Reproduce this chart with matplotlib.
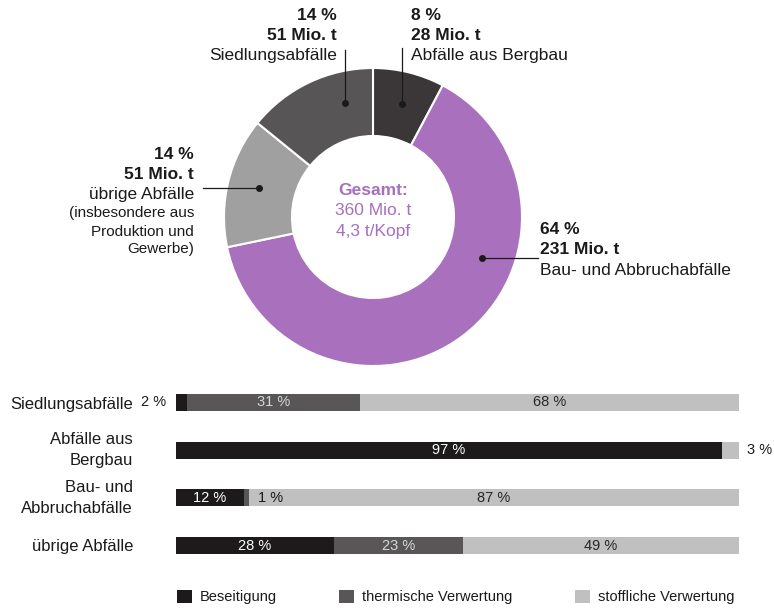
import matplotlib
matplotlib.use('Agg')
import matplotlib.pyplot as plt
import numpy as np

W, H = 774, 610
plt.rcParams['font.family'] = ['Liberation Sans', 'DejaVu Sans']

# ---------------- data ----------------
waste_types = ['Abfälle aus Bergbau', 'Bau- und Abbruchabfälle', 'übrige Abfälle', 'Siedlungsabfälle']
amounts = [28, 231, 51, 51]          # Mio. t
shares = [8, 64, 14, 14]             # %
pie_colors = ['#3b3738', '#a970bd', '#a0a0a0', '#585556']
extra_note = ['(insbesondere aus', 'Produktion und', 'Gewerbe)']
total_lines = ['Gesamt:', '360 Mio. t', '4,3 t/Kopf']

bar_categories = ['Siedlungsabfälle', 'Abfälle aus\nBergbau', 'Bau- und\nAbbruchabfälle', 'übrige Abfälle']
beseitigung = [2, 97, 12, 28]
thermisch = [31, 0, 1, 23]
stofflich = [68, 3, 87, 49]
series_names = ['Beseitigung', 'thermische Verwertung', 'stoffliche Verwertung']
bar_colors = ['#1d1a1b', '#595657', '#c0c0c0']
text_on_bar = ['white', '#d6d6d6', '#262626']

PURPLE = '#a66fbf'
DARK = '#1a1a1a'

fig = plt.figure(figsize=(W / 100, H / 100), dpi=100)

# ---------------- donut ----------------
cx, cy, R = 373, 217, 149
axp = fig.add_axes([(cx - R) / W, (H - cy - R) / H, 2 * R / W, 2 * R / H])
axp.pie(amounts, colors=pie_colors, startangle=90, counterclock=False, radius=1,
        wedgeprops=dict(width=68 / 149, edgecolor='white', linewidth=1.5))
axp.set_xlim(-1, 1)
axp.set_ylim(-1, 1)
axp.axis('off')


def P(px, py):
    return ((px - cx) / R, (cy - py) / R)


# label layout (pixel positions): x, ha, line y's, leader line
layout = {
    'Abfälle aus Bergbau': dict(x=411, ha='left', ys=[13.5, 33.5, 54], lead=[(402, 48), (402, 104)]),
    'Bau- und Abbruchabfälle': dict(x=540, ha='left', ys=[228, 248, 269], lead=[(538, 258), (482, 258)]),
    'übrige Abfälle': dict(x=194, ha='right', ys=[153, 173, 193], lead=[(203, 188), (259, 188)]),
    'Siedlungsabfälle': dict(x=337, ha='right', ys=[13.5, 33.5, 54], lead=[(345, 50), (345, 103)]),
}
FS = 12.5
for name, amt, sh in zip(waste_types, amounts, shares):
    L = layout[name]
    lines = [(f'{sh} %', 'bold'), (f'{amt} Mio. t', 'bold'), (name, 'normal')]
    for (t, w), y in zip(lines, L['ys']):
        axp.text(*P(L['x'], y + 1.5), t, ha=L['ha'], va='center', fontsize=FS,
                 fontweight=w, color=DARK)
    (x0, y0), (x1, y1) = L['lead']
    xa, ya = P(x0, y0)
    xb, yb = P(x1, y1)
    axp.plot([xa, xb], [ya, yb], color=DARK, lw=0.9, clip_on=False)
    axp.plot([xb], [yb], 'o', color=DARK, ms=4, clip_on=False)

for t, y in zip(extra_note, [212, 230, 248]):
    axp.text(*P(194, y + 1.5), t, ha='right', va='center', fontsize=11, color=DARK)

for (t, w), y in zip(zip(total_lines, ['bold', 'normal', 'normal']), [189, 209, 230]):
    axp.text(*P(cx, y + 1.5), t, ha='center', va='center', fontsize=FS,
             fontweight=w, color=PURPLE)

# ---------------- stacked bars ----------------
row_y = [402.5, 449.5, 497.5, 545.5]
pitch = (row_y[-1] - row_y[0]) / 3
top = row_y[0] - pitch / 2
bottom = row_y[-1] + pitch / 2
bx0, bx1 = 176, 739
axb = fig.add_axes([bx0 / W, (H - bottom) / H, (bx1 - bx0) / W, (bottom - top) / H])

data = np.array([beseitigung, thermisch, stofflich], dtype=float)
norm = data / data.sum(axis=0) * 100
left = np.zeros(len(bar_categories))
yy = np.arange(len(bar_categories))
NARROW = ['Liberation Sans Narrow', 'Liberation Sans']
PFS = 10.5
special = {(0, 0): 'outside_left', (1, 2): 'outside_right', (2, 1): 'after'}
for k in range(3):
    axb.barh(yy, norm[k], left=left, height=17 / pitch, color=bar_colors[k],
             label=series_names[k])
    for i in range(len(bar_categories)):
        v = data[k, i]
        if v <= 0:
            continue
        s = f'{int(v)} %'
        mode = special.get((i, k), 'center')
        if mode == 'center':
            axb.text(left[i] + norm[k, i] / 2, i, s, ha='center', va='center',
                     fontsize=PFS, family=NARROW, color=text_on_bar[k])
        elif mode == 'outside_left':
            axb.annotate(s, (0, i), xytext=(-7, 0), textcoords='offset points',
                         ha='right', va='center', fontsize=PFS, family=NARROW, color=DARK)
        elif mode == 'outside_right':
            axb.annotate(s, (100, i), xytext=(6, 0), textcoords='offset points',
                         ha='left', va='center', fontsize=PFS, family=NARROW, color=DARK)
        else:
            axb.annotate(s, (left[i] + norm[k, i], i), xytext=(6, 0), textcoords='offset points',
                         ha='left', va='center', fontsize=PFS, family=NARROW, color=DARK)
    left += norm[k]

axb.set_xlim(0, 100)
axb.set_ylim(len(bar_categories) - 0.5, -0.5)
axb.set_yticks(yy)
axb.set_yticklabels(bar_categories, fontsize=12, color=DARK)
for lab in axb.get_yticklabels():
    lab.set_linespacing(1.55)
    if '\n' in lab.get_text():
        lab.set_verticalalignment('center')
axb.set_xticks([])
axb.tick_params(axis='y', length=0, pad=31)
for sp in axb.spines.values():
    sp.set_visible(False)

handles, labels = axb.get_legend_handles_labels()
fig.legend(handles, labels, loc='center left', bbox_to_anchor=(177 / W, (H - 597) / H),
           ncol=3, frameon=False, fontsize=10.5, handlelength=1.0, handleheight=1.0,
           handletextpad=0.55, columnspacing=4.3, borderpad=0, borderaxespad=0,
           labelcolor=DARK)

fig.savefig('out.png', dpi=100)
